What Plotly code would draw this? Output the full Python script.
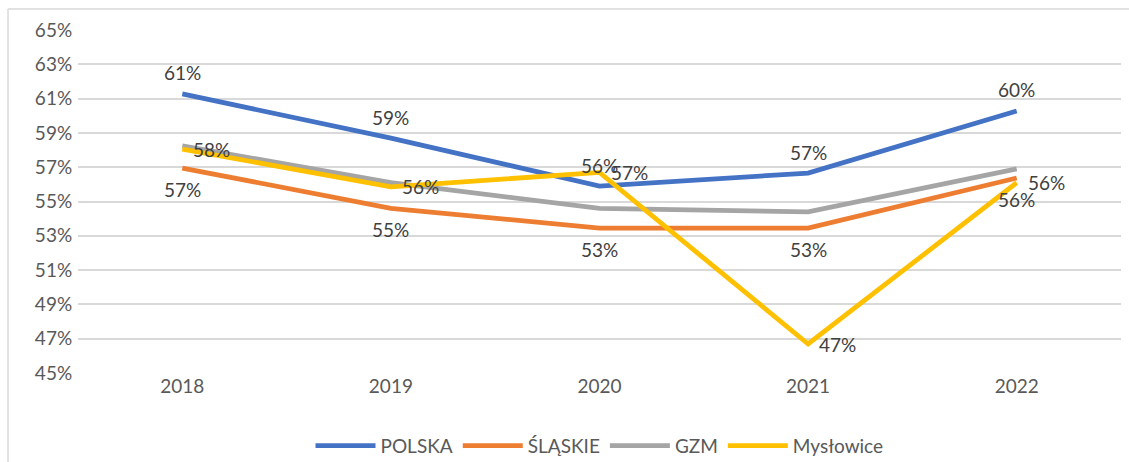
import plotly.graph_objects as go

years = ["2018", "2019", "2020", "2021", "2022"]
polska = [0.6127, 0.5870, 0.5590, 0.5666, 0.6028]
slaskie = [0.5695, 0.5460, 0.5345, 0.5345, 0.5637]
gzm = [0.5824, 0.5610, 0.5460, 0.5440, 0.5690]
myslowice = [0.5806, 0.5585, 0.5670, 0.4669, 0.5610]

names = ["POLSKA", "ŚLĄSKIE", "GZM", "Mysłowice"]
colors = ["#4472C4", "#ED7D31", "#A5A5A5", "#FFC000"]

FONT = "Lato, 'Open Sans', sans-serif"
label_font = dict(family=FONT, size=19, color="#404040")

fig = go.Figure()
series = [polska, slaskie, gzm, myslowice]
for name, vals, col in zip(names, series, colors):
    fig.add_trace(go.Scatter(x=years, y=vals, name=name, mode="lines",
                             line=dict(color=col, width=4.8)))

annotations = []
# label placement: (series, xshift, yshift, xanchor)
placements = [(polska, 0, 21, "center"), (slaskie, 0, -21, "center"),
              (myslowice, 9, 0, "left")]
for vals, xs, ys, xa in placements:
    for i, v in enumerate(vals):
        annotations.append(dict(x=i, y=v, xref="x", yref="y", text=f"{round(v*100):d}%",
                                showarrow=False, xshift=xs, yshift=ys, xanchor=xa,
                                yanchor="middle", font=label_font))

fig.update_layout(
    width=1129, height=462,
    margin=dict(l=78, r=8, t=30, b=89),
    paper_bgcolor="white", plot_bgcolor="white",
    font=dict(family=FONT, size=19, color="#595959"),
    showlegend=True,
    legend=dict(orientation="h", x=0.5, xanchor="center", yref="container",
                y=0.035, yanchor="middle", font=dict(size=19, color="#595959"),
                itemwidth=60),
    xaxis=dict(type="category", range=[-0.5, 4.5], showgrid=False, zeroline=False,
               showline=False, ticks="", tickfont=dict(size=19, color="#595959")),
    yaxis=dict(range=[0.45, 0.65], dtick=0.02, tick0=0.45, tickformat=".0%",
               showgrid=True, gridcolor="#D9D9D9", gridwidth=1.5, zeroline=False,
               showline=False, ticks="", ticksuffix=" ",
               tickfont=dict(size=19, color="#595959")),
    annotations=annotations,
    shapes=[
        dict(type="line", xref="paper", yref="paper", x0=-0.0671, x1=-0.0671,
             y0=1.0612, y1=-0.4, line=dict(color="#D9D9D9", width=1.5)),
        dict(type="line", xref="paper", yref="paper", x0=-0.0671, x1=1.2,
             y0=1.0612, y1=1.0612, line=dict(color="#D9D9D9", width=1.5)),
    ],
)

fig.write_html("out.html", config={"displayModeBar": False},
               post_script="document.body.style.margin='0';document.body.style.overflow='hidden';")
